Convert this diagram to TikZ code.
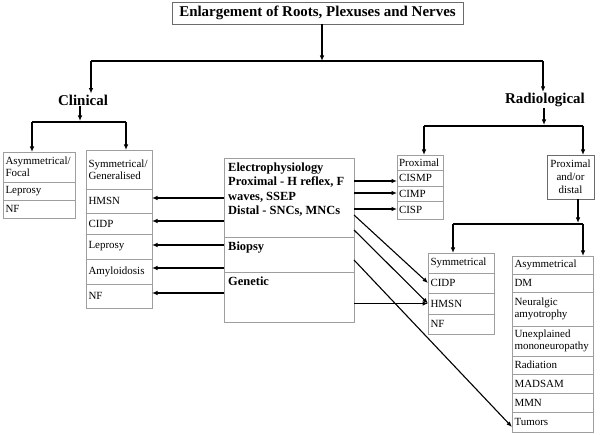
\documentclass[tikz,border=0pt]{standalone}
\usepackage{fontspec}
\setmainfont{Liberation Serif}
\usetikzlibrary{arrows.meta}
\definecolor{boxgray}{gray}{0.62}
\definecolor{darkbox}{gray}{0.42}
\newcommand\dgRow{\fontsize{11}{12}\selectfont}
\newcommand\dgMid{\fontsize{12.5}{14.5}\selectfont\bfseries}
\newcommand\dgBig{\fontsize{15}{17}\selectfont\bfseries}
\tikzset{
  ln/.style={line width=1.1bp, draw=black},
  arr/.style={ln, -{Latex[length=5.5bp,width=4.5bp]}},
  cell/.style={draw=boxgray, line width=0.7bp, anchor=north west, outer sep=0pt,
    inner xsep=2.5bp, inner ysep=0.5bp, align=left, font=\dgRow},
  colA/.style={cell, minimum width=72bp, text width=67bp},
  colB/.style={cell, minimum width=66bp, text width=61bp},
  colP/.style={cell, minimum width=46bp, text width=42bp, inner xsep=2bp},
  colS/.style={cell, minimum width=66bp, text width=61bp},
  colR/.style={cell, minimum width=81bp, text width=76bp},
  sect/.style={cell, minimum width=130bp},
  midtxt/.style={anchor=north west, inner xsep=4bp, inner ysep=4.5bp, align=left, font=\dgMid},
  heading/.style={font=\dgBig, inner sep=1bp},
  darkbox/.style={draw=darkbox, line width=0.8bp, anchor=north west, outer sep=0pt, inner sep=0pt}
}
\begin{document}
\hyphenpenalty=10000 \exhyphenpenalty=10000
\begin{tikzpicture}[x=1bp,y=-1bp]
\useasboundingbox (0,0) rectangle (605,435);

% title and headings
\node[darkbox, font=\dgBig, minimum width=291bp, minimum height=22bp] (tt) at (172,2)
  {Enlargement of Roots, Plexuses and Nerves};
\node[heading] (cl) at (83,100) {Clinical};
\node[heading] (rad) at (545,100) {Radiological};

% clinical boxes
\node[colA, minimum height=30bp] (a1) at (3,152) {Asymmetrical/\\Focal};
\node[colA, minimum height=18bp] (a2) at (3,182) {Leprosy};
\node[colA, minimum height=18bp] (a3) at (3,200) {NF};

\node[colB, minimum height=39bp] (b0) at (86,150) {Symmetrical/\\Generalised};
\node[colB, minimum height=24bp] (b1) at (86,189) {HMSN};
\node[colB, minimum height=21bp] (b2) at (86,213) {CIDP};
\node[colB, minimum height=25bp] (b3) at (86,234) {Leprosy};
\node[colB, minimum height=25bp] (b4) at (86,259) {Amyloidosis};
\node[colB, minimum height=24bp] (b5) at (86,284) {NF};

% middle box
\node[sect, minimum height=79bp] (e1) at (224,158) {};
\node[sect, minimum height=35bp] (e2) at (224,237) {};
\node[sect, minimum height=50bp] (e3) at (224,272) {};
\node[midtxt] (e1t) at (e1.north west) {Electrophysiology\\Proximal - H reflex, F\\waves, SSEP\\Distal - SNCs, MNCs};
\node[midtxt] (e2t) at (e2.north west) {Biopsy};
\node[midtxt] (e3t) at (e3.north west) {Genetic};

% radiological boxes
\node[colP, minimum height=15bp] (p0) at (397,155) {Proximal};
\node[colP, minimum height=16bp] (p1) at (397,170) {CISMP};
\node[colP, minimum height=15bp] (p2) at (397,186) {CIMP};
\node[colP, minimum height=18bp] (p3) at (397,201) {CISP};

\node[darkbox, minimum width=47bp, minimum height=44bp, align=center,
  font=\fontsize{11}{13}\selectfont] (pd) at (547,155) {Proximal\\and/or\\distal};

\node[colS, minimum height=20bp] (s0) at (428,253) {Symmetrical};
\node[colS, minimum height=20bp] (s1) at (428,273) {CIDP};
\node[colS, minimum height=21bp] (s2) at (428,293) {HMSN};
\node[colS, minimum height=20bp] (s3) at (428,314) {NF};

\node[colR, minimum height=18bp] (r0) at (512,256) {Asymmetrical};
\node[colR, minimum height=18bp] (r1) at (512,274) {DM};
\node[colR, minimum height=34bp] (r2) at (512,292) {Neuralgic\\amyotrophy};
\node[colR, minimum height=30bp] (r3) at (512,326) {Unexplained\\mononeuropathy};
\node[colR, minimum height=18bp] (r4) at (512,356) {Radiation};
\node[colR, minimum height=19bp] (r5) at (512,374) {MADSAM};
\node[colR, minimum height=19bp] (r6) at (512,393) {MMN};
\node[colR, minimum height=20bp] (r7) at (512,412) {Tumors};

% top bus
\coordinate (k0) at (322,61);
\coordinate (k0L) at (91,61);
\coordinate (k0R) at (543,61);
\draw[arr] (tt.south -| k0) -- (k0);
\draw[ln] (k0L) -- (k0R);
\draw[arr] (k0L) -- (k0L |- cl.north);
\draw[arr] (k0R) -- (k0R |- rad.north);

% clinical bus
\coordinate (k1) at (80,121);
\coordinate (k1L) at (32,122);
\coordinate (k1R) at (126,122);
\draw[arr] (cl.south -| k1) -- (k1);
\draw[ln] (k1L) -- (k1R);
\draw[arr] (k1L) -- (a1.north -| k1L);
\draw[arr] (k1R) -- (b0.north -| k1R);

% radiological bus
\coordinate (k2) at (544,125);
\coordinate (k2L) at (424,126);
\coordinate (k2R) at (583,126);
\draw[arr] (rad.south -| k2) -- (k2);
\draw[ln] (k2L) -- (k2R);
\draw[arr] (k2L) -- (p0.north -| k2L);
\draw[arr] (k2R) -- (pd.north -| k2R);

% proximal and/or distal bus
\coordinate (k3) at (578,223);
\coordinate (k3L) at (453,224);
\coordinate (k3R) at (583,224);
\draw[arr] (pd.south -| k3) -- (k3);
\draw[ln] (k3L) -- (k3R);
\draw[arr] (k3L) -- (s0.north -| k3L);
\draw[arr] (k3R) -- (r0.north -| k3R);

% middle box to clinical symmetrical
\coordinate (y1) at (0,198);
\coordinate (y2) at (0,221);
\coordinate (y3) at (0,245);
\coordinate (y4) at (0,268);
\coordinate (y5) at (0,293);
\draw[arr] (e1.west |- y1) -- (b1.east |- y1);
\draw[arr] (e1.west |- y2) -- (b2.east |- y2);
\draw[arr] (e2.west |- y3) -- (b3.east |- y3);
\draw[arr] (e2.west |- y4) -- (b4.east |- y4);
\draw[arr] (e3.west |- y5) -- (b5.east |- y5);

% middle box to proximal
\coordinate (z1) at (0,181);
\coordinate (z2) at (0,193);
\coordinate (z3) at (0,209);
\draw[arr] (e1.east |- z1) -- (p1.west |- z1);
\draw[arr] (e1.east |- z2) -- (p2.west |- z2);
\draw[arr] (e1.east |- z3) -- (p3.west |- z3);

% diagonals
\coordinate (w1) at (0,215);
\coordinate (w2) at (0,230);
\coordinate (w3) at (0,260);
\draw[arr] (e1.east |- w1) -- (s1.west);
\draw[arr] (e1.east |- w2) -- (s2.west);
\draw[arr] (e2.east |- w3) -- ([yshift=-5bp]r7.west);
\draw[arr] (e3.east |- s2.west) -- (s2.west);
\end{tikzpicture}
\end{document}
